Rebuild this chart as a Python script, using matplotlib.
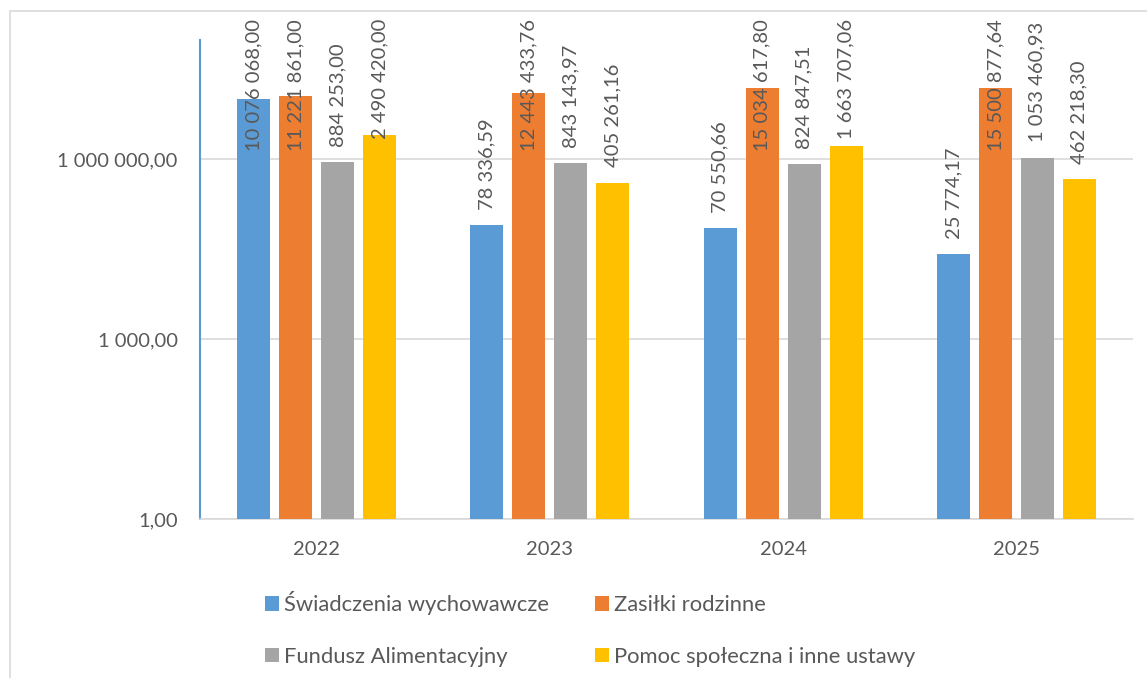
import matplotlib
matplotlib.use("Agg")
import matplotlib.pyplot as plt
from matplotlib.patches import Rectangle, Patch
import numpy as np

plt.rcParams['font.family'] = ['Lato', 'DejaVu Sans']

years = ["2022", "2023", "2024", "2025"]
series_names = ["Świadczenia wychowawcze", "Zasiłki rodzinne",
                "Fundusz Alimentacyjny", "Pomoc społeczna i inne ustawy"]
swiadczenia = [10076068.00, 78336.59, 70550.66, 25774.17]
zasilki = [11221861.00, 12443433.76, 15034617.80, 15500877.64]
fundusz = [884253.00, 843143.97, 824847.51, 1053460.93]
pomoc = [2490420.00, 405261.16, 1663707.06, 462218.30]
colors = ["#5B9BD5", "#ED7D31", "#A5A5A5", "#FFC000"]
ytick_vals = [1, 1e3, 1e6]

series = [swiadczenia, zasilki, fundusz, pomoc]
TXT = "#595959"
DPI = 100
W, H = 1147, 678


def fmt(v):
    return f"{v:,.2f}".replace(",", " ").replace(".", ",")


fig = plt.figure(figsize=(W / DPI, H / DPI), dpi=DPI)
ax = fig.add_axes([200 / W, (H - 519) / H, (1133 - 200) / W, (519 - 40) / H])

x = np.arange(len(years))
bw = 0.1415
step = 0.18
anns = []
for i, (vals, c) in enumerate(zip(series, colors)):
    xs = x + (i - 1.5) * step
    ax.bar(xs, vals, width=bw, color=c, zorder=3)
    for xi, v in zip(xs, vals):
        a = ax.annotate(fmt(v), xy=(xi, v), xytext=(0, 11), textcoords='offset points',
                        rotation=90, ha='center', va='bottom', fontsize=14.5,
                        color=TXT, zorder=5, annotation_clip=False)
        anns.append(a)

ax.set_yscale('log')
ax.set_ylim(1, 10 ** (479 / 60))
ax.set_xlim(-0.5, len(years) - 0.5)
ax.set_yticks(ytick_vals)
ax.set_yticklabels([fmt(v) for v in ytick_vals])
ax.yaxis.set_minor_locator(matplotlib.ticker.NullLocator())
ax.set_xticks(x)
ax.set_xticklabels(years)
ax.tick_params(axis='both', length=0, labelsize=14.5, labelcolor=TXT)
ax.tick_params(axis='y', pad=16)
ax.tick_params(axis='x', pad=16)
ax.grid(axis='y', color='#D9D9D9', lw=1.2, zorder=0)
for s in ['top', 'right']:
    ax.spines[s].set_visible(False)
ax.spines['bottom'].set_color('#D9D9D9')
ax.spines['bottom'].set_linewidth(1.2)
ax.spines['left'].set_color('#5B9BD5')
ax.spines['left'].set_linewidth(1.5)

handles = [Patch(facecolor=c, edgecolor='none') for c in colors]
order = [0, 2, 1, 3]  # row-major filling of a 2-column legend
fig.legend([handles[k] for k in order], [series_names[k] for k in order],
           ncol=2, loc='upper left',
           bbox_to_anchor=(265 / W, 1 - 591 / H), frameon=False,
           fontsize=15.8, labelcolor=TXT, handlelength=0.64, handleheight=0.64,
           handletextpad=0.23, columnspacing=2.1, labelspacing=1.45,
           borderpad=0, borderaxespad=0)

fig.patches.append(Rectangle((9.5 / W, -0.1), 1.2, (H - 11) / H + 0.1,
                             transform=fig.transFigure, fill=False,
                             edgecolor='#D9D9D9', lw=1.2))

# keep labels inside the chart top, as the original does
fig.canvas.draw()
r = fig.canvas.get_renderer()
limit = H - 19
for a in anns:
    bb = a.get_window_extent(r)
    if bb.y1 > limit:
        shift = bb.y1 - limit
        a.xyann = (0, 11 - shift * 72 / DPI)

fig.savefig("out.png", dpi=DPI)
